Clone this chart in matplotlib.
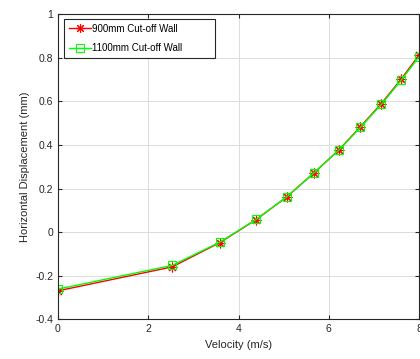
import matplotlib
matplotlib.use("Agg")
import matplotlib.pyplot as plt

velocity = [0.0, 2.53, 3.58, 4.39, 5.07, 5.66, 6.22, 6.70, 7.16, 7.60, 8.0]
disp_900 = [-0.270, -0.160, -0.049, 0.057, 0.162, 0.270, 0.377, 0.484, 0.590, 0.702, 0.814]
disp_1100 = [-0.262, -0.153, -0.047, 0.058, 0.162, 0.270, 0.376, 0.481, 0.586, 0.697, 0.806]
labels = ["900mm Cut-off Wall", "1100mm Cut-off Wall"]

plt.rcParams["font.family"] = ["Liberation Sans", "DejaVu Sans"]
plt.rcParams["font.size"] = 7.5

fig = plt.figure(figsize=(4.2, 3.59), dpi=100)
ax = fig.add_axes([0.138, 0.111, 0.860, 0.849])

ax.plot(velocity, disp_900, color="red", marker=(8, 2, 0), markersize=7, markeredgewidth=0.8,
        linewidth=1, label=labels[0])
ax.plot(velocity, disp_1100, color="#00ff00", marker="s", markersize=6, fillstyle="none",
        markeredgewidth=0.8, linewidth=1, label=labels[1])

ax.set_xlim(0, 8)
ax.set_ylim(-0.4, 1)
ax.set_xticks([0, 2, 4, 6, 8])
ax.set_yticks([-0.4, -0.2, 0, 0.2, 0.4, 0.6, 0.8, 1])
ax.set_yticklabels(["-0.4", "-0.2", "0", "0.2", "0.4", "0.6", "0.8", "1"])
ax.grid(True, color="#dcdcdc", linewidth=0.7)
ax.tick_params(direction="in", top=True, right=True, length=3, colors="#262626", labelcolor="#262626")
for s in ax.spines.values():
    s.set_color("#262626")
    s.set_linewidth(0.8)

ax.set_xlabel("Velocity (m/s)", color="#262626", fontsize=8)
ax.set_ylabel("Horizontal Displacement (mm)", color="#262626", fontsize=8)

leg = ax.legend(loc="upper left", bbox_to_anchor=(0.0166, 0.985, 0.418, 0.0), mode="expand",
                borderaxespad=0, fancybox=False, edgecolor="#262626", framealpha=1,
                handlelength=2.3, handletextpad=0.1, labelspacing=0.95, borderpad=0.5,
                fontsize=7, markerscale=0.9)
leg.get_frame().set_linewidth(0.8)

fig.savefig("out.png", dpi=100)
